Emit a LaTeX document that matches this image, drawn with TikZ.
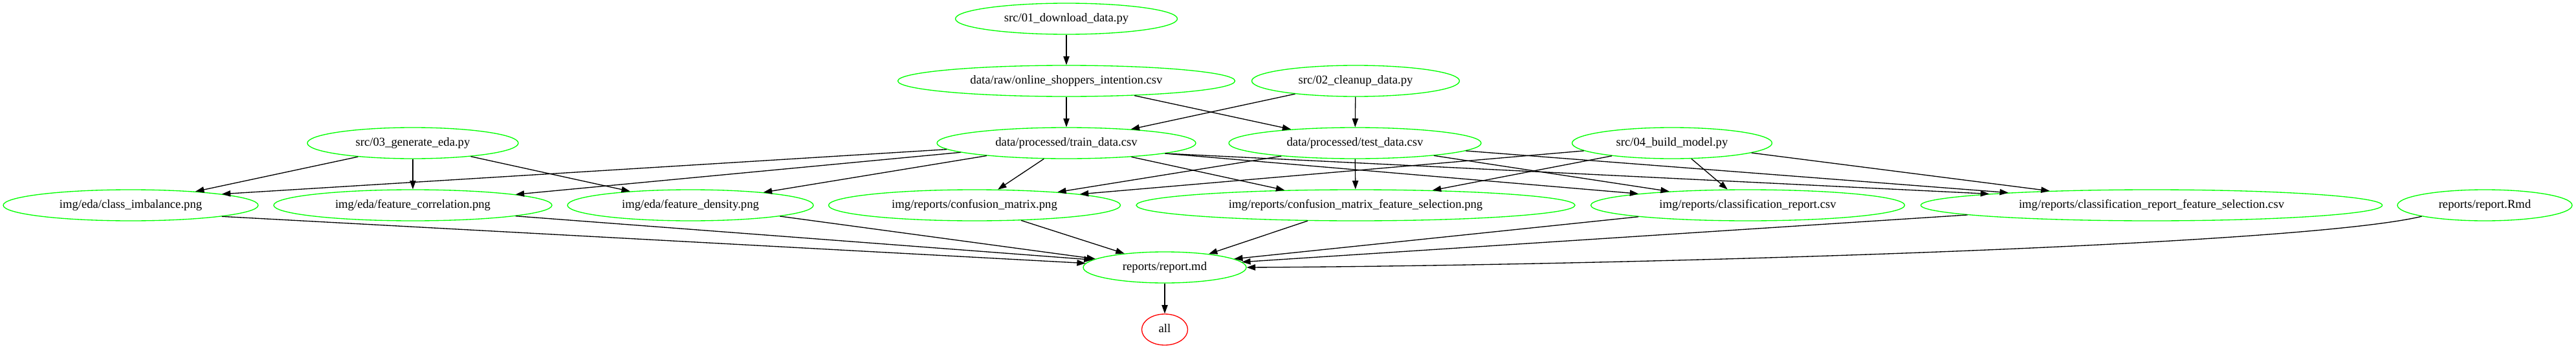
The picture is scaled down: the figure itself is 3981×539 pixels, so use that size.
\documentclass[tikz,border=0pt]{standalone}
\usepackage{fontspec}
\setmainfont{Liberation Serif}
\usetikzlibrary{shapes.geometric,arrows.meta}
\definecolor{gvgreen}{RGB}{0,255,0}
\definecolor{gvred}{RGB}{255,0,0}
\tikzset{
  gnode/.style={ellipse, draw=gvgreen, line width=1pt, inner sep=0pt, minimum height=36pt,
    font=\fontsize{14}{16.8}\selectfont},
  rnode/.style={gnode, draw=gvred},
  edge/.style={line width=1pt, draw=black, -{Triangle[length=10pt,width=7pt]}}
}
\newcommand{\lbl}[1]{\makebox[0pt]{\strut #1}}
\begin{document}
\begin{tikzpicture}[x=0.75pt,y=-0.75pt]
\useasboundingbox (0,0) rectangle (3981,539);
% row 1
\node[gnode, minimum width=0.75*343pt] (d01) at (1648,29) {\lbl{src/01\_download\_data.py}};
% row 2
\node[gnode, minimum width=0.75*521pt] (raw) at (1648,125) {\lbl{data/raw/online\_shoppers\_intention.csv}};
\node[gnode, minimum width=0.75*321pt] (c02) at (2095,125) {\lbl{src/02\_cleanup\_data.py}};
% row 3
\node[gnode, minimum width=0.75*326pt] (eda03) at (638,221) {\lbl{src/03\_generate\_eda.py}};
\node[gnode, minimum width=0.75*400pt] (train) at (1648,221) {\lbl{data/processed/train\_data.csv}};
\node[gnode, minimum width=0.75*390pt] (test) at (2094,221) {\lbl{data/processed/test\_data.csv}};
\node[gnode, minimum width=0.75*309pt] (m04) at (2584,221) {\lbl{src/04\_build\_model.py}};
% row 4
\node[gnode, minimum width=0.75*394pt] (ci) at (202,317) {\lbl{img/eda/class\_imbalance.png}};
\node[gnode, minimum width=0.75*430pt] (fc) at (638,317) {\lbl{img/eda/feature\_correlation.png}};
\node[gnode, minimum width=0.75*380pt] (fd) at (1067,317) {\lbl{img/eda/feature\_density.png}};
\node[gnode, minimum width=0.75*451pt] (cm) at (1506,317) {\lbl{img/reports/confusion\_matrix.png}};
\node[gnode, minimum width=0.75*678pt] (cmfs) at (2095,317) {\lbl{img/reports/confusion\_matrix\_feature\_selection.png}};
\node[gnode, minimum width=0.75*485pt] (cr) at (2701,317) {\lbl{img/reports/classification\_report.csv}};
\node[gnode, minimum width=0.75*713pt] (crfs) at (3325,317) {\lbl{img/reports/classification\_report\_feature\_selection.csv}};
\node[gnode, minimum width=0.75*270pt] (rmd) at (3840,317) {\lbl{reports/report.Rmd}};
% row 5
\node[gnode, minimum width=0.75*252pt] (md) at (1800,413) {\lbl{reports/report.md}};
% row 6
\node[rnode, minimum width=0.75*71pt] (all) at (1800,509) {\lbl{all}};
% edges
\draw[edge] (d01) -- (raw);
\draw[edge] (raw) -- (train);
\draw[edge] (raw) -- (test);
\draw[edge] (c02) -- (train);
\draw[edge] (c02) -- (test);
\draw[edge] (eda03.-166.7) -- (ci.12.6);
\draw[edge] (eda03) -- (fc);
\draw[edge] (eda03.-13.6) -- (fd.167.3);
\draw[edge] (train.183.1) -- (ci.7.1);
\draw[edge] (train.185.5) -- (fc.6.3);
\draw[edge] (train.189.9) -- (fd.10.4);
\draw[edge] (train.215.2) -- (cm.34.4);
\draw[edge] (train.-12.2) -- (cmfs.168.1);
\draw[edge] (train.-6.2) -- (cr.174.4);
\draw[edge] (train.-6.2) -- (crfs.176.2);
\draw[edge] (test.190) -- (cm.9.5);
\draw[edge] (test) -- (cmfs);
\draw[edge] (test.-9.6) -- (cr.170.7);
\draw[edge] (test.-4.9) -- (crfs.175.4);
\draw[edge] (m04.185.5) -- (cm.6.4);
\draw[edge] (m04.192) -- (cmfs.11.1);
\draw[edge] (m04.-39.6) -- (cr.142.2);
\draw[edge] (m04.-7.8) -- (crfs.172.6);
\draw[edge] (ci.-7.1) -- (md.177.4);
\draw[edge] (fc.-6) -- (md.174.9);
\draw[edge] (fd.-7.5) -- (md.173);
\draw[edge] (cm.-18.7) -- (md.161.6);
\draw[edge] (cmfs.198.7) -- (md.17.7);
\draw[edge] (cr.186.7) -- (md.7.1);
\draw[edge] (crfs.183.8) -- (md.4.1);
\draw[edge] (rmd.190.7) .. controls (3550,380) and (2500,410) .. (md.0.4);
\draw[edge] (md) -- (all);
\end{tikzpicture}
\end{document}
